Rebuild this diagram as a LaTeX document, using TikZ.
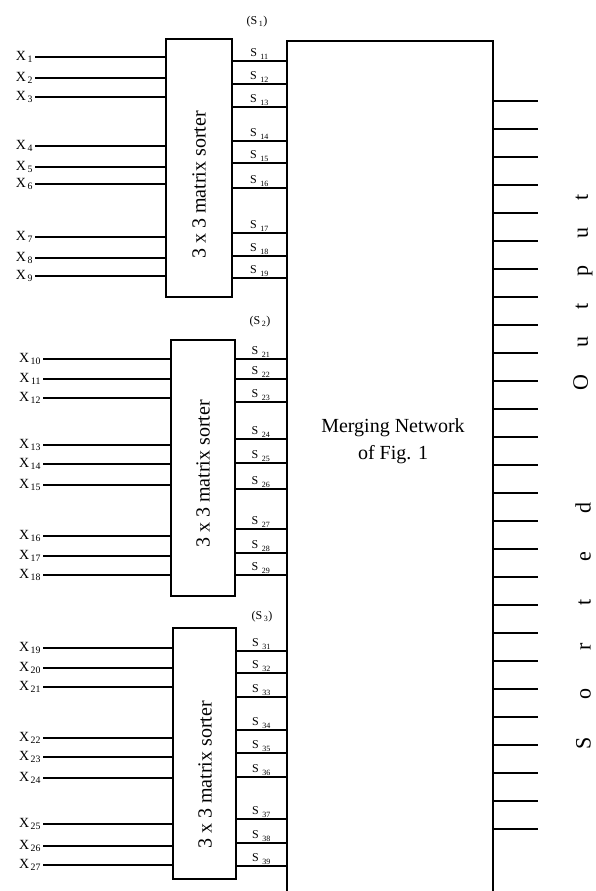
\documentclass[tikz,border=0pt]{standalone}
\usepackage{fontspec}
\setmainfont{Liberation Serif}
\newcommand\mysub[2]{#1\hspace{1.5pt}\textsubscript{#2}}
\newcommand\mysubw[2]{#1\hspace{3.5pt}\raisebox{-1pt}{\textsubscript{#2}}}
\begin{document}
\begin{tikzpicture}[x=1pt,y=-1pt,line width=1.1pt,
  box/.style={draw,line width=1.2pt,inner sep=0pt},
  xlab/.style={font=\fontsize{14}{16}\selectfont,anchor=east,inner sep=1.5pt},
  slab/.style={font=\fontsize{12}{14}\selectfont,anchor=south,inner sep=1pt},
  toplab/.style={font=\fontsize{12}{14}\selectfont,inner sep=0pt},
  big/.style={font=\fontsize{20}{27}\selectfont},
  sortlab/.style={font=\fontsize{20}{24}\selectfont,rotate=90},
  outlab/.style={font=\fontsize{22}{24}\selectfont,rotate=90,inner sep=0pt}]
\useasboundingbox (0,0) rectangle (595,891);
\clip (0,0) rectangle (595,891);

% merging network
\node[box,minimum width=206pt,minimum height=870pt] (merge) at (390,476) {};
\node[big,align=center] (mtxt) at (393,441) {Merging Network\\of Fig. 1};

% sorters
\node[box,minimum width=66pt,minimum height=258pt] (s1) at (199,168) {};
\node[box,minimum width=64pt,minimum height=256pt] (s2) at (203,468) {};
\node[box,minimum width=63pt,minimum height=251pt] (s3) at (204.5,753.5) {};
\node[sortlab] (t1) at (199,185) {3 x 3 matrix sorter};
\node[sortlab] (t2) at (203,474) {3 x 3 matrix sorter};
\node[sortlab] (t3) at (205,775) {3 x 3 matrix sorter};

% top labels
\node[toplab] (p1) at (257,22) {(\mysub{S}{1})};
\node[toplab] (p2) at (260,322) {(\mysub{S}{2})};
\node[toplab] (p3) at (262,617) {(\mysub{S}{3})};

% inputs group 1
\foreach \y [count=\i] in {57,78,97,146,167,184,237,258,276}{
  \coordinate (a\i) at (35,\y);
  \node[xlab] (xa\i) at (a\i) {\mysub{X}{\i}};
  \draw (a\i) -- (s1.west |- a\i);
}
% inputs group 2
\foreach \y [count=\i from 10] in {359,379,398,445,464,485,536,556,575}{
  \coordinate (a\i) at (43,\y);
  \node[xlab] (xa\i) at (a\i) {\mysub{X}{\i}};
  \draw (a\i) -- (s2.west |- a\i);
}
% inputs group 3
\foreach \y [count=\i from 19] in {648,668,687,738,757,778,824,846,865}{
  \coordinate (a\i) at (43,\y);
  \node[xlab] (xa\i) at (a\i) {\mysub{X}{\i}};
  \draw (a\i) -- (s3.west |- a\i);
}

% sorter outputs
\foreach \y [count=\i] in {61,84,107,141,163,188,233,256,278}{
  \coordinate (b1\i) at (s1.east |- 0,\y);
  \draw (b1\i) -- (merge.west |- b1\i);
  \node[slab] (l1\i) at (259.5,\y) {\mysubw{S}{1\i}};
}
\foreach \y [count=\i] in {359,379,402,439,463,489,529,553,575}{
  \coordinate (b2\i) at (s2.east |- 0,\y);
  \draw (b2\i) -- (merge.west |- b2\i);
  \node[slab] (l2\i) at (261,\y) {\mysubw{S}{2\i}};
}
\foreach \y [count=\i] in {651,673,697,730,753,777,819,843,866}{
  \coordinate (b3\i) at (s3.east |- 0,\y);
  \draw (b3\i) -- (merge.west |- b3\i);
  \node[slab] (l3\i) at (261.5,\y) {\mysubw{S}{3\i}};
}

% merged outputs
\foreach \k in {0,...,26}{
  \coordinate (o\k) at (538,101+28*\k);
  \draw (merge.east |- o\k) -- (o\k);
}

% Sorted Output
\node[outlab] (w1) at (583,626) {\makebox[247pt]{S\hfill o\hfill r\hfill t\hfill e\hfill d}};
\node[outlab] (w2) at (583,292) {\makebox[196pt]{O\hfill u\hfill t\hfill p\hfill u\hfill t}};
\end{tikzpicture}
\end{document}
